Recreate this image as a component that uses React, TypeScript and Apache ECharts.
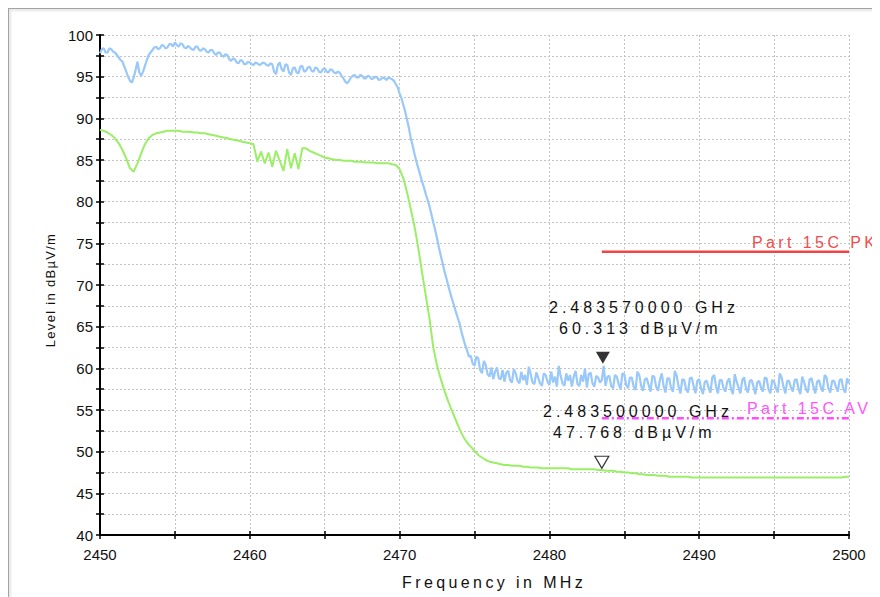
import React, { useEffect, useRef } from "react";
import * as echarts from "echarts";

// Sweep: 2450 MHz .. 2500 MHz
const FREQ_START = 2450;
const PEAK_STEP = 0.125; // eight samples per MHz
const AVG_STEP = 0.25; // four samples per MHz

// Peak detector trace (dBµV/m), eight samples per MHz
const peakTrace = [
  97.8, 98.3, 98.4, 97.9, 97.9, 98.4, 98.3, 98.0, // 2450
  97.9, 97.6, 97.3, 97.0, 96.8, 96.2, 95.6, 95.0, // 2451
  94.5, 94.3, 94.9, 95.8, 96.8, 95.5, 95.1, 95.6, // 2452
  96.3, 97.0, 97.6, 97.9, 98.2, 98.5, 98.6, 98.3, // 2453
  98.4, 98.8, 98.7, 98.4, 98.5, 98.9, 98.9, 98.6, // 2454
  99.1, 98.8, 98.6, 99.0, 98.9, 98.5, 98.4, 98.7, // 2455
  98.5, 98.3, 98.2, 98.6, 98.6, 98.2, 98.1, 98.4, // 2456
  98.3, 98.0, 97.9, 98.2, 98.2, 97.8, 97.6, 97.9, // 2457
  97.9, 97.5, 97.4, 97.7, 97.6, 97.1, 96.9, 97.2, // 2458
  97.1, 96.7, 96.6, 97.0, 96.9, 96.5, 96.5, 96.8, // 2459
  96.7, 96.5, 96.4, 96.7, 96.6, 96.4, 96.5, 96.7, // 2460
  96.6, 96.4, 96.3, 96.6, 96.5, 95.6, 95.3, 96.4, // 2461
  96.7, 95.9, 95.6, 96.5, 96.4, 95.5, 95.2, 96.0, // 2462
  96.1, 95.5, 95.4, 96.2, 96.3, 95.6, 95.7, 96.1, // 2463
  96.2, 95.7, 95.6, 96.1, 96.0, 95.6, 95.5, 95.9, // 2464
  96.0, 95.6, 95.5, 95.9, 95.8, 95.5, 95.4, 95.6, // 2465
  95.5, 95.1, 94.8, 94.4, 94.2, 94.5, 94.9, 95.1, // 2466
  95.2, 94.9, 94.9, 95.2, 95.1, 94.8, 94.8, 95.1, // 2467
  95.0, 94.7, 94.8, 95.0, 94.9, 94.6, 94.7, 94.9, // 2468
  94.8, 94.6, 94.9, 94.8, 94.7, 94.5, 94.1, 93.7, // 2469
  93.0, 92.4, 91.6, 90.8, 89.8, 88.8, 87.6, 86.7, // 2470
  85.7, 84.8, 84.0, 83.2, 82.4, 81.7, 80.9, 80.2, // 2471
  79.4, 78.5, 77.5, 76.6, 75.6, 74.5, 73.5, 72.6, // 2472
  71.6, 70.8, 69.9, 69.1, 68.3, 67.6, 66.8, 66.1, // 2473
  65.4, 64.4, 63.6, 62.8, 62.2, 61.4, 61.5, 60.6, // 2474
  60.3, 61.4, 61.2, 59.8, 59.4, 60.9, 60.4, 59.3, // 2475
  59.0, 60.1, 58.7, 59.6, 60.1, 58.8, 58.7, 59.8, // 2476
  58.4, 59.5, 59.7, 58.6, 58.3, 59.9, 59.4, 58.5, // 2477
  58.2, 59.6, 58.6, 59.2, 58.0, 60.2, 59.3, 58.3, // 2478
  58.1, 59.5, 58.9, 58.2, 57.9, 59.4, 59.2, 58.4, // 2479
  58.0, 59.6, 58.3, 59.0, 57.8, 60.3, 59.1, 58.2, // 2480
  57.9, 59.4, 58.5, 59.2, 57.8, 59.0, 59.7, 58.1, // 2481
  57.9, 59.2, 58.4, 60.0, 57.7, 59.3, 59.5, 58.2, // 2482
  57.8, 59.1, 58.9, 58.3, 58.6, 60.3, 57.9, 59.0, // 2483
  59.1, 57.9, 57.6, 59.2, 59.0, 58.1, 57.5, 59.4, // 2484
  59.3, 58.0, 57.6, 58.9, 58.9, 57.8, 57.4, 59.6, // 2485
  59.2, 57.9, 57.3, 58.7, 58.8, 58.0, 57.2, 59.1, // 2486
  59.0, 57.8, 57.3, 58.6, 59.4, 57.9, 57.1, 58.8, // 2487
  58.8, 57.6, 57.2, 59.7, 59.1, 57.8, 57.0, 58.7, // 2488
  58.6, 57.5, 57.1, 58.8, 58.9, 57.9, 57.0, 58.5, // 2489
  58.7, 57.6, 56.9, 58.4, 58.5, 57.7, 57.1, 58.9, // 2490
  59.2, 57.8, 57.0, 58.6, 58.6, 57.6, 57.2, 58.4, // 2491
  58.8, 57.5, 56.9, 59.3, 58.4, 57.7, 57.0, 58.6, // 2492
  58.9, 57.6, 57.1, 58.5, 58.6, 57.8, 56.9, 58.3, // 2493
  58.5, 57.7, 57.2, 58.9, 58.8, 57.5, 57.0, 58.6, // 2494
  58.4, 57.6, 57.1, 59.4, 58.9, 57.8, 57.0, 58.5, // 2495
  58.5, 57.7, 57.2, 58.6, 58.7, 57.6, 56.9, 59.0, // 2496
  58.4, 57.5, 57.1, 58.7, 58.8, 57.8, 57.0, 58.4, // 2497
  58.6, 57.7, 57.2, 59.2, 58.9, 57.6, 57.1, 58.5, // 2498
  58.5, 57.8, 57.2, 58.6, 58.7, 57.5, 57.1, 58.8, // 2499
  58.2, // 2500
];

// Average detector trace (dBµV/m), four samples per MHz
const avgTrace = [
  88.6, 88.5, 88.3, 88.0, // 2450
  87.6, 87.0, 86.2, 85.2, // 2451
  84.0, 83.6, 84.6, 85.8, // 2452
  86.9, 87.6, 88.0, 88.2, // 2453
  88.3, 88.4, 88.5, 88.5, // 2454
  88.5, 88.5, 88.4, 88.4, // 2455
  88.4, 88.3, 88.3, 88.2, // 2456
  88.2, 88.1, 88.0, 87.9, // 2457
  87.8, 87.7, 87.6, 87.5, // 2458
  87.4, 87.3, 87.2, 87.1, // 2459
  87.0, 86.9, 84.8, 86.0, // 2460
  84.6, 85.9, 84.2, 86.1, // 2461
  84.9, 83.7, 86.3, 84.0, // 2462
  85.8, 83.9, 86.4, 86.4, // 2463
  86.1, 85.9, 85.7, 85.5, // 2464
  85.3, 85.2, 85.1, 85.0, // 2465
  85.0, 84.9, 84.9, 84.9, // 2466
  84.8, 84.8, 84.8, 84.7, // 2467
  84.7, 84.7, 84.6, 84.6, // 2468
  84.6, 84.6, 84.5, 84.4, // 2469
  83.9, 82.8, 81.1, 79.1, // 2470
  77.0, 74.4, 71.5, 68.7, // 2471
  65.9, 62.5, 60.3, 58.7, // 2472
  57.3, 56.0, 54.9, 53.8, // 2473
  52.7, 51.8, 51.1, 50.6, // 2474
  50.1, 49.6, 49.3, 49.0, // 2475
  48.8, 48.7, 48.6, 48.5, // 2476
  48.4, 48.4, 48.3, 48.3, // 2477
  48.3, 48.2, 48.2, 48.1, // 2478
  48.1, 48.1, 48.0, 48.0, // 2479
  48.0, 48.0, 48.0, 48.0, // 2480
  48.0, 48.0, 47.9, 47.9, // 2481
  47.9, 47.9, 47.9, 47.9, // 2482
  47.9, 47.8, 47.8, 47.7, // 2483
  47.7, 47.7, 47.6, 47.6, // 2484
  47.5, 47.5, 47.4, 47.4, // 2485
  47.3, 47.3, 47.2, 47.2, // 2486
  47.2, 47.1, 47.1, 47.1, // 2487
  47.0, 47.0, 47.0, 47.0, // 2488
  47.0, 47.0, 46.9, 46.9, // 2489
  46.9, 46.9, 46.9, 46.9, // 2490
  46.9, 46.9, 46.9, 46.9, // 2491
  46.9, 46.9, 46.9, 46.9, // 2492
  46.9, 46.9, 46.9, 46.9, // 2493
  46.9, 46.9, 46.9, 46.9, // 2494
  46.9, 46.9, 46.9, 46.9, // 2495
  46.9, 46.9, 46.9, 46.9, // 2496
  46.9, 46.9, 46.9, 46.9, // 2497
  46.9, 46.9, 46.9, 46.9, // 2498
  46.9, 46.9, 46.9, 47.0, // 2499
  47.0, // 2500
];

// Limit lines
const limitNames = ["Part 15C PK", "Part 15C AV"];
const limitFreq = [2483.5, 2500];
const limitLevel = [74, 54];

// Markers
const markerFreq = [2483.57, 2483.5];
const markerLevel = [60.313, 47.768];

const FONT = "Liberation Sans, Arial";
const SP4 = "Liberation Sans, Helvetica"; // 4px letter spacing
const SP3 = "Liberation Sans, Nimbus Sans"; // 3.5px letter spacing
const SP1 = "Liberation Sans, FreeSans"; // 1.3px letter spacing

const css = `
#chart text[style*="Helvetica"], #chart text[font-family*="Helvetica"] { letter-spacing: 4px; }
#chart text[style*="Nimbus"], #chart text[font-family*="Nimbus"] { letter-spacing: 3.4px; }
#chart text[style*="FreeSans"], #chart text[font-family*="FreeSans"] { letter-spacing: 1.3px; }
`;

function toPairs(values: number[], step: number) {
  return values.map((v, i) => [FREQ_START + i * step, v]);
}

const fmtFreq = (f: number) => (f / 1000).toFixed(9) + " GHz";
const fmtLevel = (l: number) => l.toFixed(3) + " dBµV/m";

export default function App() {
  const ref = useRef<HTMLDivElement>(null);

  useEffect(() => {
    if (!ref.current) return;
    const chart = echarts.init(ref.current, null, { renderer: "svg" });

    const gridLine = { show: true, lineStyle: { color: "#c4c4c4", type: [2, 2], width: 1 } };

    const baseX = {
      type: "value",
      min: 2450,
      max: 2500,
      interval: 5,
      position: "bottom",
    };
    const baseY = {
      type: "value",
      min: 40,
      max: 100,
      interval: 2.5,
      position: "left",
    };

    const textEl = (x: number, y: number, text: string, family: string, fill: string) => ({
      type: "text",
      x,
      y,
      z: 50,
      silent: true,
      style: { text, fontSize: 16, fontFamily: family, fill, align: "left", verticalAlign: "middle" },
    });

    const option: any = {
      animation: false,
      backgroundColor: "#ffffff",
      grid: { left: 92, top: 27, width: 749, height: 500, containLabel: false },
      xAxis: [
        {
          ...baseX,
          axisLine: { show: true, onZero: false, lineStyle: { color: "#000", width: 2 } },
          axisTick: { show: true, length: 4, lineStyle: { color: "#000", width: 1.5 } },
          axisLabel: {
            margin: 12,
            fontSize: 15,
            fontFamily: FONT,
            color: "#111",
            formatter: (v: number) => (v % 10 === 0 ? String(v) : ""),
          },
          splitLine: gridLine,
        },
        {
          ...baseX,
          axisLine: { show: false, onZero: false },
          axisTick: { show: true, inside: true, length: 4, lineStyle: { color: "#000", width: 1.5 } },
          axisLabel: { show: false },
          splitLine: { show: false },
        },
      ],
      yAxis: [
        {
          ...baseY,
          axisLine: { show: true, onZero: false, lineStyle: { color: "#000", width: 2 } },
          axisTick: { show: true, length: 4, lineStyle: { color: "#000", width: 1.5 } },
          axisLabel: {
            margin: 7,
            fontSize: 15,
            fontFamily: FONT,
            color: "#111",
            formatter: (v: number) => (v % 5 === 0 ? String(v) : ""),
          },
          splitLine: gridLine,
        },
        {
          ...baseY,
          axisLine: { show: false, onZero: false },
          axisTick: { show: true, inside: true, length: 4, lineStyle: { color: "#000", width: 1.5 } },
          axisLabel: { show: false },
          splitLine: { show: false },
        },
      ],
      series: [
        {
          name: "PK",
          type: "line",
          data: toPairs(peakTrace, PEAK_STEP),
          showSymbol: false,
          symbol: "none",
          lineStyle: { color: "#99c8fa", width: 2.2 },
          z: 3,
        },
        {
          name: "AV",
          type: "line",
          data: toPairs(avgTrace, AVG_STEP),
          showSymbol: false,
          symbol: "none",
          lineStyle: { color: "#9bef66", width: 2 },
          z: 3,
        },
        {
          name: limitNames[0],
          type: "line",
          data: limitFreq.map((f) => [f, limitLevel[0]]),
          showSymbol: false,
          symbol: "none",
          lineStyle: { color: "#f24444", width: 2.5 },
          z: 4,
        },
        {
          name: limitNames[1],
          type: "line",
          data: limitFreq.map((f) => [f, limitLevel[1]]),
          showSymbol: false,
          symbol: "none",
          lineStyle: { color: "#ff4cff", width: 2.5, type: [7, 3, 2, 3] },
          z: 4,
        },
        {
          name: "M1",
          type: "scatter",
          data: [[markerFreq[0], markerLevel[0]]],
          symbol: "triangle",
          symbolRotate: 180,
          symbolSize: [14, 12],
          symbolOffset: [0, -8],
          itemStyle: { color: "#000" },
          z: 6,
        },
        {
          name: "M2",
          type: "scatter",
          data: [[markerFreq[1], markerLevel[1]]],
          symbol: "triangle",
          symbolRotate: 180,
          symbolSize: [14, 12],
          symbolOffset: [0, -8],
          itemStyle: { color: "#fff", borderColor: "#000", borderWidth: 1.2 },
          z: 6,
        },
      ],
      graphic: [
        {
          type: "rect",
          silent: true,
          shape: { x: 0.5, y: 0.5, width: 1000, height: 1000 },
          style: { fill: "none", stroke: "#a3a3a3", lineWidth: 1.5 },
          z: 100,
        },
        {
          type: "rect",
          silent: true,
          shape: { x: 2.5, y: 2.5, width: 1000, height: 1000 },
          style: { fill: "none", stroke: "#ededed", lineWidth: 2 },
          z: 100,
        },
        {
          type: "text",
          x: 42,
          y: 282,
          rotation: Math.PI / 2,
          silent: true,
          style: {
            text: "Level in dBµV/m",
            fontSize: 13,
            fontFamily: SP1,
            fill: "#111",
            align: "center",
            verticalAlign: "middle",
          },
        },
        textEl(394, 574, "Frequency in MHz", SP3, "#111"),
        textEl(744, 234, limitNames[0], SP3, "#f24c4c"),
        textEl(739, 400, limitNames[1], SP3, "#ff55ff"),
        textEl(541, 299, fmtFreq(markerFreq[0]), SP4, "#111"),
        textEl(551, 320, fmtLevel(markerLevel[0]), SP4, "#111"),
        textEl(535, 403, fmtFreq(markerFreq[1]), SP4, "#111"),
        textEl(545, 424, fmtLevel(markerLevel[1]), SP4, "#111"),
      ],
    };

    chart.setOption(option);
    return () => chart.dispose();
  }, []);

  return (
    <>
      <style>{css}</style>
      <div id="chart" ref={ref} style={{ width: 872, height: 589 }} />
    </>
  );
}
